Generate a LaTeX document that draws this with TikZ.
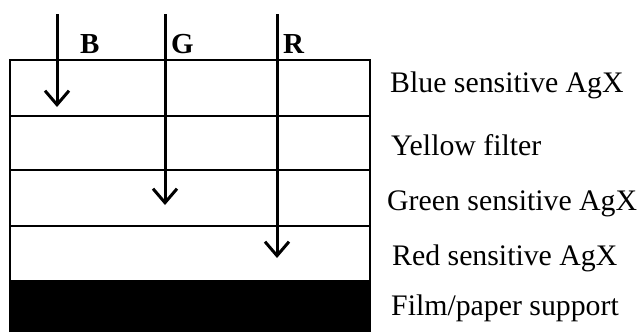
\documentclass[tikz,border=0pt]{standalone}
\usepackage{fontspec}
\setmainfont{Liberation Serif}
\usetikzlibrary{arrows.meta}
\begin{document}
\begin{tikzpicture}[x=1pt,y=-1pt,
  layerline/.style={line width=2pt},
  ray/.style={line width=3pt,-{Straight Barb[length=14pt,width=24pt,line width=3pt]}},
  lab/.style={anchor=base west,inner sep=0pt,font=\fontsize{29.8}{34}\selectfont},
  rgb/.style={anchor=base west,inner sep=0pt,font=\fontsize{29}{34}\selectfont\bfseries}]
\useasboundingbox (0,0) rectangle (642,332);
% layers
\fill[black] (10,281) rectangle (370,332);
\draw[layerline] (10,332) -- (10,60) -- (370,60) -- (370,332);
\foreach \yy in {116,170,226,281} \draw[layerline] (10,\yy) -- (370,\yy);
% ray coordinates
\coordinate (bs) at (57,14);  \coordinate (be) at (57,107);
\coordinate (gs) at (165,14); \coordinate (ge) at (165,205);
\coordinate (rs) at (277,14); \coordinate (re) at (277,258);
\draw[ray] (bs) -- (be);
\draw[ray] (gs) -- (ge);
\draw[ray] (rs) -- (re);
\node[rgb] (lb) at (80,53) {B};
\node[rgb] (lg) at (171,53) {G};
\node[rgb] (lr) at (283,53) {R};
% labels
\node[lab] (t1) at (390,92) {Blue sensitive AgX};
\node[lab] (t2) at (391,155) {Yellow filter};
\node[lab] (t3) at (387,210) {Green sensitive AgX};
\node[lab] (t4) at (392,265) {Red sensitive AgX};
\node[lab] (t5) at (391,315) {Film/paper support};
\end{tikzpicture}
\end{document}
